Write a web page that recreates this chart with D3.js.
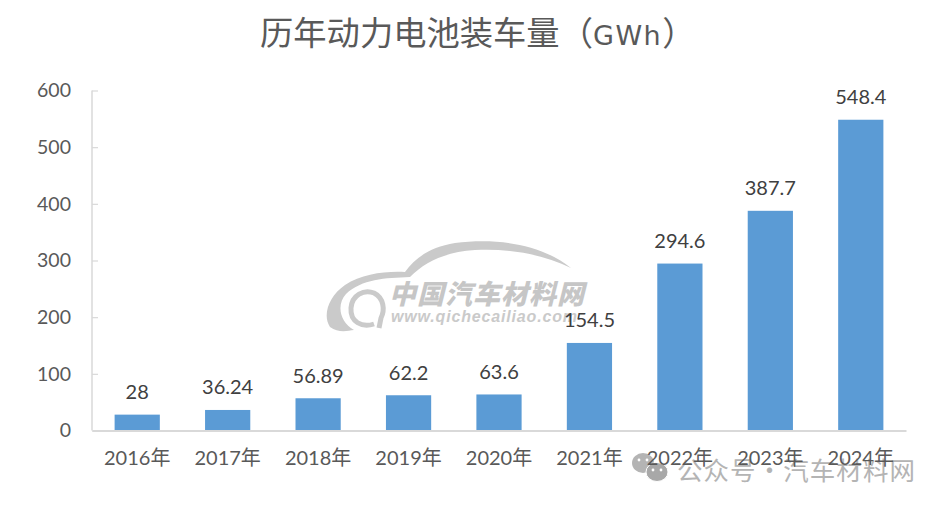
<!DOCTYPE html>
<html>
<head>
<meta charset="utf-8">
<script src="https://cdn.jsdelivr.net/npm/d3@7"></script>
<style>
html, body { margin: 0; padding: 0; background: #fff; }
svg { display: block; }
text { font-family: Lato, "Noto Sans CJK SC", sans-serif; }
</style>
</head>
<body>
<div id="chart"></div>
<script>
var years = ["2016年", "2017年", "2018年", "2019年", "2020年", "2021年", "2022年", "2023年", "2024年"];
var values = [28, 36.24, 56.89, 62.2, 63.6, 154.5, 294.6, 387.7, 548.4];
var labels = ["28", "36.24", "56.89", "62.2", "63.6", "154.5", "294.6", "387.7", "548.4"];
var yTicks = [0, 100, 200, 300, 400, 500, 600];

var width = 946, height = 508;
var margin = {top: 90.5, right: 40, bottom: 77.5, left: 92};

var svg = d3.select("#chart").append("svg")
    .attr("width", width)
    .attr("height", height);

var x = d3.scaleBand()
    .domain(years)
    .range([margin.left, width - margin.right])
    .paddingInner(0.5)
    .paddingOuter(0.25);

var y = d3.scaleLinear()
    .domain([0, 600])
    .range([height - margin.bottom, margin.top]);

// title, the latin part is wider in the original
var title = svg.append("text")
    .attr("x", 260)
    .attr("y", 45)
    .attr("font-size", 33.3)
    .attr("fill", "#595959")
    .style("font-family", '"Noto Sans CJK SC", sans-serif');
title.append("tspan").text("历年动力电池装车量（");
title.append("tspan")
    .attr("font-size", 27)
    .attr("letter-spacing", 1.5)
    .style("font-family", '"DejaVu Sans", sans-serif')
    .text("GWh");
title.append("tspan").text("）");

// y axis
var yAxis = d3.axisLeft(y)
    .tickValues(yTicks)
    .tickSize(-6)
    .tickPadding(21);
var gy = svg.append("g")
    .attr("transform", "translate(" + margin.left + ",0)")
    .call(yAxis);
gy.select(".domain").attr("stroke", "#d9d9d9").attr("stroke-width", 1.5).attr("d", "M0," + y(600) + "V" + y(0));
gy.selectAll(".tick line").attr("stroke", "#d9d9d9").attr("stroke-width", 1.2);
gy.selectAll(".tick text")
    .attr("font-size", 19.5)
    .attr("fill", "#595959")
    .style("font-family", 'Lato, sans-serif');

// watermark logo goes under the bars
var mark = svg.append("g").attr("class", "watermark");
mark.append("path")
    .attr("fill", "#cacaca")
    .attr("d", "M571,268 C540,243 495,238 455,243 C430,247 415,258 405,272 C385,271 362,274 345,285 C329,296 322,315 330,327 C338,333 347,331 354,330 C340,322 336,305 346,294 C362,279 385,278 410,277 C425,262 445,252 475,250 C510,248 545,255 571,268 Z");
mark.append("path")
    .attr("fill", "none")
    .attr("stroke", "#cacaca")
    .attr("stroke-width", 5)
    .attr("d", "M374,324 C362,328 350,322 351,308 C352,295 364,289 374,293 C384,298 385,310 381,318 L379,328");
mark.append("text")
    .attr("x", 389)
    .attr("y", 304)
    .attr("font-size", 27)
    .attr("font-weight", 900)
    .attr("font-style", "italic")
    .attr("fill", "#c6c6c6")
    .style("font-family", '"Noto Sans CJK SC", sans-serif')
    .attr("textLength", 195)
    .text("中国汽车材料网");
mark.append("text")
    .attr("x", 391)
    .attr("y", 322)
    .attr("font-size", 16)
    .attr("font-weight", 700)
    .attr("font-style", "italic")
    .attr("fill", "#cacaca")
    .style("font-family", '"Liberation Sans", sans-serif')
    .attr("textLength", 186)
    .text("www.qichecailiao.com");

// bars
svg.selectAll(".bar")
    .data(values)
    .enter().append("rect")
    .attr("class", "bar")
    .attr("x", function(d, i) { return x(years[i]); })
    .attr("y", function(d) { return y(d); })
    .attr("width", x.bandwidth())
    .attr("height", function(d) { return y(0) - y(d); })
    .attr("fill", "#5b9bd5");

// x axis
var xAxis = d3.axisBottom(x).tickSize(0).tickPadding(20);
var gx = svg.append("g")
    .attr("transform", "translate(0," + y(0) + ")")
    .call(xAxis);
gx.select(".domain").attr("stroke", "#d9d9d9").attr("stroke-width", 2);

// WeChat account mark, sits behind the axis labels
var wx = svg.append("g").attr("class", "wechat");
wx.append("ellipse").attr("cx", 643).attr("cy", 463).attr("rx", 11).attr("ry", 10).attr("fill", "#b4b4b4");
wx.append("ellipse").attr("cx", 657).attr("cy", 472).attr("rx", 11).attr("ry", 9.5).attr("fill", "#a8a8a8").attr("stroke", "#fff").attr("stroke-width", 1);
wx.selectAll(".eye")
    .data([[639, 460], [647, 460], [653, 470], [661, 470]])
    .enter().append("circle")
    .attr("class", "eye")
    .attr("cx", function(d) { return d[0]; })
    .attr("cy", function(d) { return d[1]; })
    .attr("r", 1.4)
    .attr("fill", "#fff");
wx.append("text")
    .attr("x", 677)
    .attr("y", 480)
    .attr("font-size", 25.5)
    .attr("fill", "#b4b4b4")
    .attr("textLength", 238)
    .style("font-family", '"Noto Sans CJK SC", sans-serif')
    .text("公众号·汽车材料网");

gx.raise();
gx.selectAll(".tick text")
    .attr("font-size", 20)
    .attr("fill", "#595959")
    .style("font-family", 'Lato, "Noto Sans CJK SC", sans-serif');

// value labels
svg.selectAll(".val")
    .data(values)
    .enter().append("text")
    .attr("class", "val")
    .attr("x", function(d, i) { return x(years[i]) + x.bandwidth() / 2; })
    .attr("y", function(d) { return y(d) - 15.5; })
    .attr("text-anchor", "middle")
    .attr("font-size", 20)
    .attr("fill", "#404040")
    .text(function(d, i) { return labels[i]; });
</script>
</body>
</html>
